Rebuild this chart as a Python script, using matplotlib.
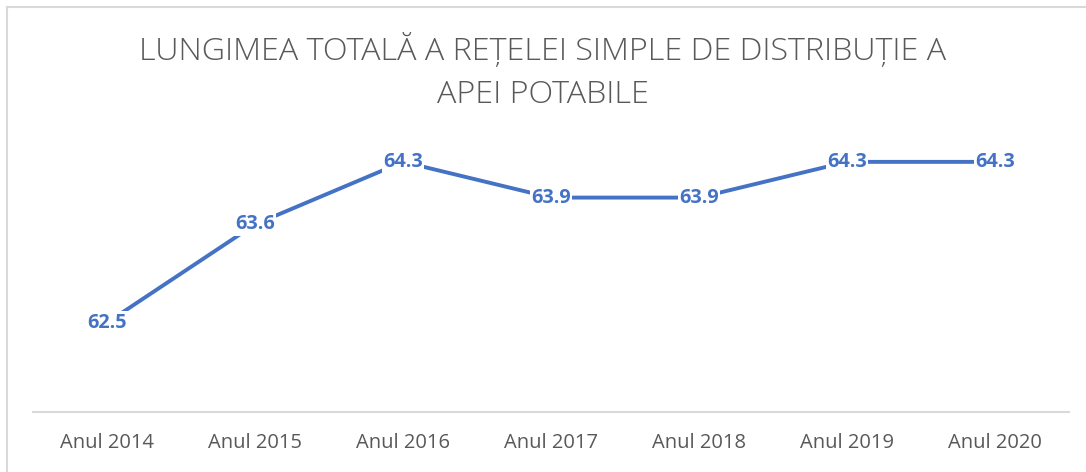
import matplotlib
matplotlib.use("Agg")
import matplotlib.pyplot as plt

categories = ["Anul 2014", "Anul 2015", "Anul 2016", "Anul 2017",
              "Anul 2018", "Anul 2019", "Anul 2020"]
values = [62.5, 63.6, 64.3, 63.9, 63.9, 64.3, 64.3]
title = "LUNGIMEA TOTALĂ A REȚELEI SIMPLE DE DISTRIBUȚIE A\nAPEI POTABILE"

W, H = 1086, 472
fig = plt.figure(figsize=(W / 100, H / 100), dpi=100)
fig.patch.set_facecolor("white")

# chart frame (left and top edges visible)
fig.add_artist(plt.Line2D([6.5 / W, 6.5 / W], [0, 1 - 6.5 / H], color="#d9d9d9", lw=1.5,
                          transform=fig.transFigure))
fig.add_artist(plt.Line2D([6.5 / W, 1], [1 - 6.5 / H, 1 - 6.5 / H], color="#d9d9d9", lw=1.5,
                          transform=fig.transFigure))

left, right = 33 / W, 1069 / W
bottom, top = 1 - 412 / H, 1 - 144 / H
ax = fig.add_axes([left, bottom, right - left, top - bottom])

x = list(range(len(categories)))
blue = "#4472C4"
ax.plot(x, values, color=blue, lw=2.8, solid_capstyle="butt", zorder=2)

for xi, v in zip(x, values):
    ax.text(xi, v, f"{v:.1f}", ha="center", va="center", color=blue,
            fontsize=14.3, fontweight="bold", family="Open Sans", zorder=3,
            bbox=dict(facecolor="white", edgecolor="none", pad=0.8))

ax.set_xlim(-0.5, len(categories) - 0.5)
ax.set_ylim(61.5, 64.5)
ax.set_xticks(x)
ax.set_xticklabels(categories, family="Open Sans", fontsize=14.5, color="#595959")
ax.tick_params(axis="x", length=0, pad=15)
ax.set_yticks([])
for s in ["top", "right", "left"]:
    ax.spines[s].set_visible(False)
ax.spines["bottom"].set_color("#d9d9d9")
ax.spines["bottom"].set_linewidth(1.5)

fig.text(0.5, 1 - 72 / H, title, ha="center", va="center", color="#595959",
         fontsize=23.2, family="Open Sans", fontweight="light", linespacing=1.42)

fig.savefig("out.png", dpi=100, facecolor="white")
